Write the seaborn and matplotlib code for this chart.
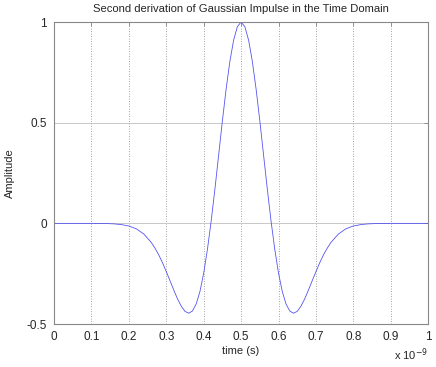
import pandas as pd
import matplotlib.pyplot as plt
import seaborn as sns

# time in units of 1e-9 s, amplitude
time_ns = [0.00, 0.02, 0.04, 0.06, 0.08, 0.10, 0.12, 0.14, 0.16, 0.18,
           0.20, 0.22, 0.24, 0.26, 0.27, 0.28, 0.29, 0.30, 0.31, 0.32,
           0.33, 0.34, 0.35, 0.36, 0.37, 0.38, 0.39, 0.40, 0.41, 0.42,
           0.43, 0.44, 0.45, 0.46, 0.47, 0.48, 0.49, 0.50, 0.51, 0.52,
           0.53, 0.54, 0.55, 0.56, 0.57, 0.58, 0.59, 0.60, 0.61, 0.62,
           0.63, 0.64, 0.65, 0.66, 0.67, 0.68, 0.69, 0.70, 0.71, 0.72,
           0.73, 0.74, 0.76, 0.78, 0.80, 0.82, 0.84, 0.86, 0.88, 0.90,
           0.92, 0.94, 0.96, 0.98, 1.00]
amplitude = [0.0, 0.0, 0.0, 0.0, 0.0, 0.0, -0.0003, -0.0008, -0.0024, -0.006,
             -0.013, -0.027, -0.053, -0.095, -0.124, -0.157, -0.196, -0.240, -0.285, -0.331,
             -0.375, -0.411, -0.437, -0.446, -0.435, -0.400, -0.338, -0.247, -0.129, 0.012,
             0.171, 0.340, 0.510, 0.668, 0.805, 0.910, 0.977, 1.0, 0.977, 0.910,
             0.805, 0.668, 0.510, 0.340, 0.171, 0.012, -0.129, -0.247, -0.338, -0.400,
             -0.435, -0.446, -0.437, -0.411, -0.375, -0.331, -0.285, -0.240, -0.196, -0.157,
             -0.124, -0.095, -0.053, -0.027, -0.013, -0.006, -0.0024, -0.0008, -0.0003, 0.0,
             0.0, 0.0, 0.0, 0.0, 0.0]
xticks = [0, 0.1, 0.2, 0.3, 0.4, 0.5, 0.6, 0.7, 0.8, 0.9, 1]
xticklabels = ['0', '0.1', '0.2', '0.3', '0.4', '0.5', '0.6', '0.7', '0.8', '0.9', '1']
yticks = [-0.5, 0, 0.5, 1]
yticklabels = ['-0.5', '0', '0.5', '1']

df = pd.DataFrame({'time': time_ns, 'amp': amplitude})

sns.set_style('white')
plt.rcParams['font.family'] = ['Liberation Sans', 'DejaVu Sans']

fig = plt.figure(figsize=(4.36, 3.67), dpi=100)
ax = fig.add_axes([0.124, 0.117, 0.858, 0.823])

# grid: dotted verticals, light solid horizontals
for x in xticks[1:-1]:
    ax.axvline(x, color='#888888', lw=0.6, ls=(0, (1, 2)), zorder=0)
for y in [0, 0.5]:
    ax.axhline(y, color='#c8c8c8', lw=0.7, zorder=0)

sns.lineplot(data=df, x='time', y='amp', ax=ax, color='#5555ee', lw=0.6)

ax.set_xlim(0, 1)
ax.set_ylim(-0.5, 1)
ax.set_xticks(xticks)
ax.set_xticklabels(xticklabels)
ax.set_yticks(yticks)
ax.set_yticklabels(yticklabels)
ax.tick_params(direction='in', length=3, labelsize=8.5, top=True, right=True,
               color='#888888', width=0.6, pad=5)
for s in ax.spines.values():
    s.set_color('#888888')
    s.set_linewidth(0.8)

ax.set_title('Second derivation of Gaussian Impulse in the Time Domain', fontsize=8.1, pad=7)
ax.set_xlabel('time (s)', fontsize=8, labelpad=2)
ax.set_ylabel('Amplitude', fontsize=8)
ax.yaxis.set_label_coords(-0.104, 0.5)
ax.text(1.0, -0.118, r'x 10$^{-9}$', transform=ax.transAxes, fontsize=8,
        ha='right', va='baseline')

fig.savefig('out.png', dpi=100)
